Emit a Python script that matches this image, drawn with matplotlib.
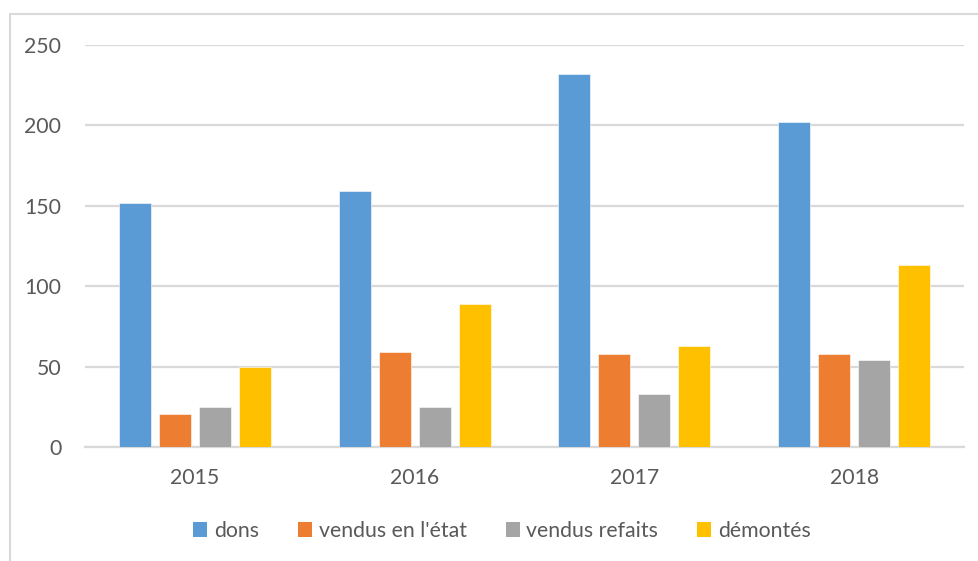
import numpy as np
import matplotlib
matplotlib.use('Agg')
import matplotlib.pyplot as plt
from matplotlib.patches import Rectangle, Patch

#===============================================================================
# data
#===============================================================================
years = ['2015', '2016', '2017', '2018']
dons = [152, 159, 232, 202]
vendus_etat = [21, 59, 58, 58]
vendus_refaits = [25, 25, 33, 54]
demontes = [50, 89, 63, 113]

series_names = ['dons', "vendus en l'état", 'vendus refaits', 'démontés']
series_colors = ['#5b9bd5', '#ed7d31', '#a5a5a5', '#ffc000']
yticks = [0, 50, 100, 150, 200, 250]

#===============================================================================
# style
#===============================================================================
plt.rcParams['font.family'] = ['Lato', 'DejaVu Sans']
fs = 15.3
txt_c = '#595959'
grid_c = '#d9d9d9'

W, H = 979, 561
fig = plt.figure(figsize=(W / 100, H / 100), dpi=100)
fig.patch.set_facecolor('white')

ax = fig.add_axes([85 / W, 113.7 / H, (964 - 85) / W, 402.3 / H])

#===============================================================================
# bars
#===============================================================================
x = np.arange(len(years))
pitch = 0.182
width = 0.146
for j, (vals, color) in enumerate(zip([dons, vendus_etat, vendus_refaits, demontes], series_colors)):
    ax.bar(x + (j - 1.5) * pitch, vals, width=width, color=color,
           edgecolor='white', linewidth=0.4, zorder=3)

ax.set_xlim(-0.5, len(years) - 0.5)
ax.set_ylim(0, 250)
ax.set_yticks(yticks)
ax.set_xticks(x)
ax.set_xticklabels(years)

ax.yaxis.grid(True, color=grid_c, linewidth=1.6, zorder=0)
ax.set_axisbelow(True)
for s in ['top', 'right', 'left']:
    ax.spines[s].set_visible(False)
ax.spines['bottom'].set_color(grid_c)
ax.spines['bottom'].set_linewidth(1.6)
ax.tick_params(axis='both', length=0, colors=txt_c, labelsize=fs)
ax.tick_params(axis='y', pad=17)
ax.tick_params(axis='x', pad=15)

#===============================================================================
# legend
#===============================================================================
handles = [Patch(facecolor=c, edgecolor='none') for c in series_colors]
fig.legend(handles, series_names, loc='center', bbox_to_anchor=(502 / W, 30 / H),
           ncol=4, frameon=False, handlelength=0.66, handleheight=0.66,
           handletextpad=0.3, columnspacing=1.85, labelcolor=txt_c, fontsize=fs)

# chart border (cropped on right/bottom)
fig.add_artist(Rectangle((9.5 / W, -0.1), 1.0, (H - 14) / H + 0.1,
                         transform=fig.transFigure, fill=False,
                         edgecolor=grid_c, linewidth=1.5))

fig.savefig('out.png', dpi=100)
